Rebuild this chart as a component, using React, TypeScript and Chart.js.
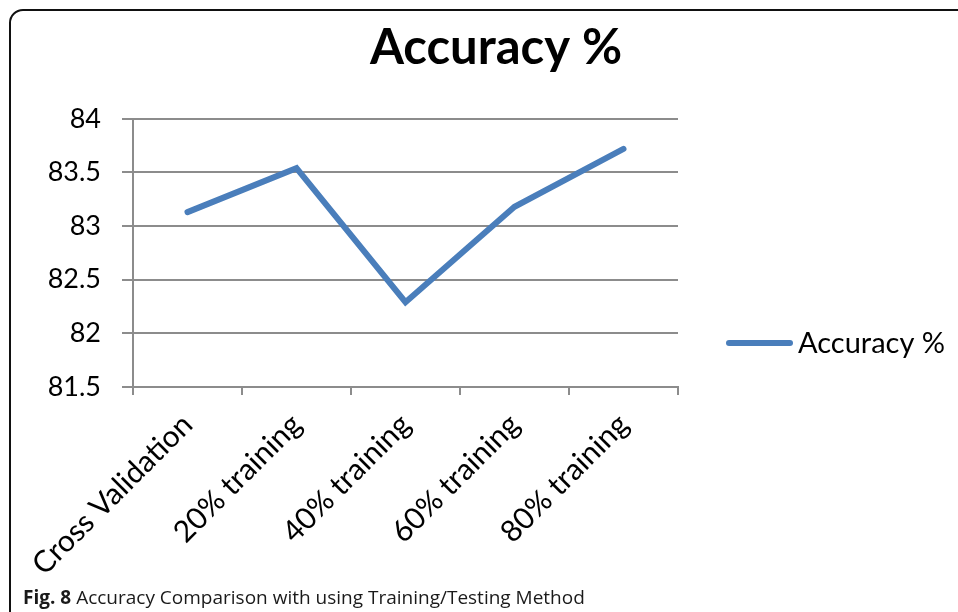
import React, { useEffect, useRef } from "react";
import { Chart, registerables } from "chart.js";

Chart.register(...registerables);

const categories = ["Cross Validation", "20% training", "40% training", "60% training", "80% training"];
const accuracy = [83.13, 83.54, 82.29, 83.18, 83.72];
const yTicks = [81.5, 82, 82.5, 83, 83.5, 84];
const seriesLabel = "Accuracy %";
const titleText = "Accuracy %";
const captionBold = "Fig. 8";
const captionText = "Accuracy Comparison with using Training/Testing Method";

const LINE_COLOR = "#4a7ebb";
const GRID_COLOR = "#8c8c8c";
const FONT = "Lato";
const CANVAS_W = 992;
const CANVAS_H = 612;

const sideLegend = {
  id: "sideLegend",
  afterDraw(chart: any) {
    const { ctx, chartArea } = chart;
    const ds = chart.data.datasets[0];
    const x0 = chartArea.right + 48;
    const y = chartArea.bottom - 44;
    ctx.save();
    ctx.strokeStyle = ds.borderColor;
    ctx.lineWidth = 6;
    ctx.lineCap = "round";
    ctx.beginPath();
    ctx.moveTo(x0 + 3, y);
    ctx.lineTo(x0 + 64, y);
    ctx.stroke();
    ctx.font = `29px ${FONT}`;
    ctx.fillStyle = "#000";
    ctx.textBaseline = "middle";
    ctx.textAlign = "left";
    ctx.fillText(ds.label, x0 + 72, y + 1);
    ctx.restore();
  },
};

export default function App() {
  const canvasRef = useRef<HTMLCanvasElement | null>(null);

  useEffect(() => {
    let chart: Chart | null = null;
    let cancelled = false;
    const make = () => {
      if (cancelled || !canvasRef.current) return;
      chart = new Chart(canvasRef.current, {
        type: "line",
        data: {
          labels: categories,
          datasets: [
            {
              label: seriesLabel,
              data: accuracy,
              borderColor: LINE_COLOR,
              backgroundColor: LINE_COLOR,
              borderWidth: 6,
              borderCapStyle: "round",
              borderJoinStyle: "miter",
              pointRadius: 0,
              tension: 0,
              fill: false,
              yAxisID: "y",
            },
          ],
        },
        options: {
          responsive: false,
          animation: false,
          events: [],
          layout: { padding: 0 },
          plugins: {
            legend: { display: false },
            tooltip: { enabled: false },
            title: {
              display: true,
              text: titleText,
              color: "#000",
              font: { family: FONT, size: 49, weight: "bold", lineHeight: 1.2 },
              padding: { top: 19, bottom: 41 },
            },
          },
          scales: {
            x: {
              type: "category",
              offset: true,
              grid: {
                offset: true,
                drawOnChartArea: false,
                drawTicks: true,
                tickLength: 8,
                color: GRID_COLOR,
                lineWidth: 2,
              },
              border: { display: true, color: GRID_COLOR, width: 2 },
              ticks: {
                autoSkip: false,
                maxRotation: 45,
                minRotation: 45,
                padding: 12,
                color: "#000",
                font: { family: FONT, size: 30 },
              },
              afterFit: (s: any) => {
                s.height = CANVAS_H - 387;
              },
            },
            y: {
              position: "left",
              min: 81.5,
              max: 84,
              grid: {
                drawOnChartArea: true,
                drawTicks: true,
                tickLength: 11,
                color: GRID_COLOR,
                lineWidth: 2,
              },
              border: { display: true, color: GRID_COLOR, width: 2 },
              ticks: {
                padding: 21,
                color: "#000",
                font: { family: FONT, size: 27 },
                callback: (v: any) => String(v),
              },
              afterBuildTicks: (s: any) => {
                s.ticks = yTicks.map((v) => ({ value: v }));
              },
              afterFit: (s: any) => {
                s.width = 133;
              },
            },
            legendSpace: {
              type: "linear",
              position: "right",
              display: true,
              grid: { display: false, drawTicks: false },
              border: { display: false },
              ticks: { display: false },
              afterFit: (s: any) => {
                s.width = CANVAS_W - 678;
              },
            },
          },
        },
        plugins: [sideLegend],
      });
    };
    const fontsReady = (document as any).fonts
      ? Promise.all([
          (document as any).fonts.load(`27px ${FONT}`),
          (document as any).fonts.load(`bold 49px ${FONT}`),
        ]).catch(() => null)
      : Promise.resolve(null);
    fontsReady.then(make);
    return () => {
      cancelled = true;
      if (chart) chart.destroy();
    };
  }, []);

  return (
    <div
      style={{
        position: "fixed",
        left: 0,
        top: 0,
        width: 958,
        height: 612,
        overflow: "hidden",
        background: "#fff",
      }}
    >
      <div
        style={{
          position: "absolute",
          left: 9,
          top: 9,
          width: 1200,
          height: 900,
          border: "2px solid #111",
          borderTopLeftRadius: 14,
          boxSizing: "border-box",
        }}
      />
      <canvas
        ref={canvasRef}
        width={CANVAS_W}
        height={CANVAS_H}
        style={{ position: "absolute", left: 0, top: 0, width: CANVAS_W, height: CANVAS_H }}
      />
      <div
        style={{
          position: "absolute",
          left: 23,
          top: 585,
          fontFamily: "'Open Sans', sans-serif",
          fontSize: 19,
          lineHeight: "24px",
          color: "#1a1a1a",
          whiteSpace: "nowrap",
        }}
      >
        <b>{captionBold}</b> {captionText}
      </div>
    </div>
  );
}
